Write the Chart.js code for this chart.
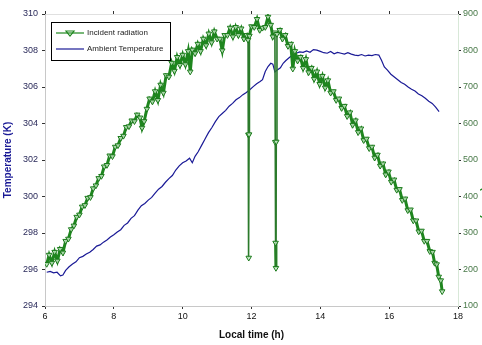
<!DOCTYPE html>
<html>
<head>
<meta charset="utf-8">
<script src="https://cdn.jsdelivr.net/npm/chart.js@4.4.1/dist/chart.umd.min.js"></script>
<style>
  html, body { margin: 0; padding: 0; background: #fff; }
  #chart { display: block; }
</style>
</head>
<body>
<canvas id="chart" width="482" height="345"></canvas>
<script>
// hours (local time) and incident radiation (W/m2)
const radTime = [6.05,6.12,6.20,6.28,6.36,6.44,6.52,6.60,6.68,6.76,6.84,6.92,7.00,7.08,7.16,7.24,7.32,7.40,7.48,7.56,
  7.64,7.72,7.80,7.88,7.96,8.04,8.12,8.20,8.28,8.36,8.44,8.52,8.60,8.68,8.76,8.82,8.88,8.96,9.04,9.12,
  9.20,9.28,9.36,9.44,9.52,9.60,9.68,9.76,9.84,9.92,10.00,10.08,10.16,10.22,10.28,10.36,10.44,10.52,10.60,10.68,
  10.76,10.84,10.92,11.00,11.08,11.15,11.22,11.30,11.38,11.46,11.54,11.62,11.70,11.78,11.86,11.90,11.91,11.92,11.93,11.94,
  12.00,12.08,12.16,12.24,12.32,12.40,12.48,12.56,12.62,12.68,12.69,12.70,12.71,12.72,12.74,12.82,12.90,12.98,13.06,13.14,
  13.20,13.26,13.34,13.42,13.50,13.58,13.66,13.74,13.82,13.90,13.98,14.06,14.14,14.22,14.30,14.38,14.46,14.54,14.62,14.70,
  14.78,14.86,14.94,15.02,15.10,15.18,15.26,15.34,15.42,15.50,15.58,15.66,15.74,15.82,15.90,15.98,16.06,16.14,16.22,16.30,
  16.38,16.46,16.54,16.62,16.70,16.78,16.86,16.94,17.02,17.10,17.18,17.26,17.32,17.38,17.44,17.50,17.54];
const radiation = [215,240,218,248,224,256,246,278,284,310,320,344,350,372,376,396,398,422,430,450,
  456,482,486,512,510,536,540,560,566,590,592,608,606,624,616,588,606,640,668,660,
  688,664,706,684,732,728,766,744,782,760,788,762,798,742,802,792,818,798,832,814,
  846,822,852,832,832,800,842,842,862,838,864,842,860,832,842,829,569,232,570,840,
  866,864,886,856,862,864,892,870,838,849,549,273,204,550,845,856,832,842,812,818,
  750,798,772,782,752,776,740,752,722,742,708,730,698,718,684,688,664,668,642,648,
  620,630,596,608,576,586,554,558,532,536,506,514,484,490,460,468,440,446,418,420,
  390,394,362,364,334,334,304,306,278,278,250,248,218,214,180,170,140];

// hours (local time) and ambient temperature (K)
const tempTime = [6.05,6.15,6.25,6.35,6.45,6.52,6.60,6.70,6.80,6.90,7.00,7.10,7.20,7.30,7.40,7.50,7.60,7.70,7.80,7.90,
  8.00,8.10,8.20,8.30,8.40,8.50,8.60,8.70,8.80,8.90,9.00,9.10,9.20,9.30,9.40,9.50,9.60,9.70,9.80,9.90,
  10.00,10.10,10.20,10.28,10.36,10.45,10.55,10.65,10.75,10.85,10.95,11.05,11.15,11.25,11.35,11.45,11.55,11.65,11.75,11.85,
  11.95,12.05,12.15,12.25,12.32,12.40,12.48,12.56,12.62,12.68,12.76,12.84,12.92,13.00,13.10,13.20,13.30,13.40,13.50,13.60,
  13.70,13.80,13.90,14.00,14.10,14.20,14.30,14.40,14.50,14.60,14.70,14.80,14.90,15.00,15.10,15.20,15.30,15.40,15.50,15.60,
  15.70,15.78,15.86,15.95,16.05,16.15,16.25,16.35,16.45,16.55,16.65,16.75,16.85,16.95,17.05,17.15,17.25,17.35,17.45];
const temperature = [295.85,295.90,295.82,295.85,295.65,295.70,295.95,296.15,296.30,296.42,296.65,296.72,296.85,296.95,297.10,297.28,297.35,297.50,297.62,297.78,
  297.90,298.05,298.18,298.42,298.55,298.80,298.95,299.25,299.50,299.62,299.80,299.95,300.18,300.40,300.55,300.78,300.98,301.15,301.45,301.68,
  301.85,301.95,302.10,301.85,302.20,302.45,302.80,303.15,303.50,303.78,304.10,304.38,304.55,304.72,304.95,305.10,305.30,305.42,305.58,305.70,
  305.85,306.02,306.18,306.30,306.40,306.85,307.12,307.30,307.25,306.82,306.95,307.05,307.30,307.45,307.62,307.75,307.85,307.92,307.90,307.98,
  307.90,308.05,308.02,307.95,307.88,307.85,307.95,307.82,307.90,307.85,307.80,307.88,307.80,307.75,307.72,307.78,307.70,307.75,307.72,307.78,
  307.75,307.45,307.10,306.92,306.70,306.55,306.40,306.25,306.15,306.00,305.88,305.78,305.62,305.52,305.38,305.22,305.10,304.90,304.65];

const xTicks = [6, 8, 10, 12, 14, 16, 18];
const seriesNames = ["Incident radiation", "Ambient Temperature"];

const GREEN = "#1e861e";
const BLUE  = "#1a1a96";
const FONT  = "'Liberation Sans', Arial, sans-serif";

const toPoints = (xs, ys) => xs.map((x, i) => ({ x: x, y: ys[i] }));

// little boxed legend in the upper left corner of the plot
const boxLegend = {
  id: "boxLegend",
  afterDraw(chart) {
    const ctx = chart.ctx, a = chart.chartArea;
    const x0 = a.left + 6, y0 = a.top + 8, w = 119, h = 38;
    ctx.save();
    ctx.fillStyle = "#fff";
    ctx.fillRect(x0, y0, w, h);
    ctx.strokeStyle = "#000";
    ctx.lineWidth = 1;
    ctx.strokeRect(x0 + 0.5, y0 + 0.5, w, h);
    chart.data.datasets.forEach((ds, i) => {
      const y = y0 + 11 + i * 16;
      ctx.strokeStyle = ds.borderColor;
      ctx.lineWidth = 1.2;
      ctx.beginPath();
      ctx.moveTo(x0 + 5, y);
      ctx.lineTo(x0 + 33, y);
      ctx.stroke();
      if (i === 0) {
        ctx.beginPath();
        ctx.moveTo(x0 + 15, y - 2);
        ctx.lineTo(x0 + 23, y - 2);
        ctx.lineTo(x0 + 19, y + 3);
        ctx.closePath();
        ctx.stroke();
      }
      ctx.fillStyle = "#222";
      ctx.font = "8px " + FONT;
      ctx.textBaseline = "middle";
      ctx.fillText(ds.label, x0 + 36, y);
    });
    ctx.restore();
  }
};

new Chart(document.getElementById("chart").getContext("2d"), {
  type: "scatter",
  data: {
    datasets: [
      {
        label: seriesNames[0],
        data: toPoints(radTime, radiation),
        yAxisID: "y1",
        showLine: true,
        borderColor: GREEN,
        borderWidth: 3,
        // the two sensor drop-outs are drawn as thin lines
        segment: {
          borderWidth: c => Math.abs(c.p0.parsed.y - c.p1.parsed.y) > 150 ? 1.6 : 3,
          borderColor: c => Math.abs(c.p0.parsed.y - c.p1.parsed.y) > 150 ? "#2b7a2b" : GREEN
        },
        pointStyle: "triangle",
        pointRotation: 180,
        pointRadius: 3.2,
        pointBorderWidth: 1,
        pointBorderColor: "#1a7a1a",
        pointBackgroundColor: "rgba(200,232,200,0.8)"
      },
      {
        label: seriesNames[1],
        data: toPoints(tempTime, temperature),
        yAxisID: "y",
        showLine: true,
        borderColor: BLUE,
        borderWidth: 1.2,
        pointRadius: 0
      }
    ]
  },
  options: {
    responsive: false,
    animation: false,
    layout: { padding: { top: 14, left: 0, right: 0, bottom: 0 } },
    plugins: { legend: { display: false }, tooltip: { enabled: false } },
    scales: {
      x: {
        type: "linear",
        min: 6, max: 18,
        afterBuildTicks: s => { s.ticks = xTicks.map(v => ({ value: v })); },
        afterFit: s => { s.height = 39; },
        grid: { drawOnChartArea: false, tickLength: 3, color: "#333" },
        border: { color: "#c8c8c8" },
        ticks: { color: "#111", font: { size: 9, family: FONT }, padding: 2 },
        title: { display: true, text: "Local time (h)", color: "#111",
                 font: { size: 10, weight: "bold", family: FONT }, padding: { top: 1 } }
      },
      x2: {
        type: "linear",
        position: "top",
        min: 6, max: 18,
        afterBuildTicks: s => { s.ticks = xTicks.map(v => ({ value: v })); },
        afterFit: s => { s.height = 0; },
        grid: { drawOnChartArea: false, tickLength: 3, color: "#333" },
        border: { color: "#e0e0e0" },
        ticks: { display: false }
      },
      y: {
        position: "left",
        min: 294, max: 310,
        ticks: { stepSize: 2, color: "#2a2a5a", font: { size: 9, family: FONT }, padding: 4 },
        afterFit: s => { s.width = 45; },
        grid: { drawOnChartArea: false, tickLength: 3, color: "#333" },
        border: { color: "#c8c8c8" },
        title: { display: true, text: "Temperature (K)", color: BLUE,
                 font: { size: 10, weight: "bold", family: FONT }, padding: { top: 2, bottom: 0 } }
      },
      y1: {
        position: "right",
        min: 100, max: 900,
        ticks: { stepSize: 100, color: "#4a7a4a", font: { size: 9, family: FONT }, padding: 2 },
        afterFit: s => { s.width = 24; },
        grid: { drawOnChartArea: false, tickLength: 3, color: "#333" },
        border: { color: "#d8e8d8" },
        title: { display: true, text: "Incident radiation (W/m²)", color: GREEN,
                 font: { size: 10, weight: "bold", family: FONT }, padding: { top: -9, bottom: 0 } }
      }
    }
  },
  plugins: [boxLegend]
});
</script>
</body>
</html>
